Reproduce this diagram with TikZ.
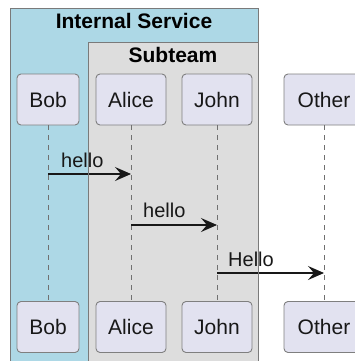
\documentclass[tikz,border=0pt]{standalone}
\usepackage{fontspec}
\setmainfont{Liberation Sans}
\usetikzlibrary{arrows.meta}
\definecolor{boxblue}{HTML}{ADD8E6}
\definecolor{boxgrey}{HTML}{DDDDDD}
\definecolor{partfill}{HTML}{E2E2F0}
\definecolor{partline}{HTML}{7F7F7F}
\definecolor{lifeline}{HTML}{707070}
\definecolor{boxline}{HTML}{7A7A7A}
\definecolor{ink}{HTML}{181818}
\tikzset{
  part/.style={draw=partline, fill=partfill, line width=0.9pt, rounded corners=4pt,
    minimum height=51pt, inner sep=0pt, font=\fontsize{21}{25}\selectfont, text=ink},
  life/.style={draw=lifeline, line width=0.7pt, dash pattern=on 5pt off 5pt},
  msg/.style={draw=ink, line width=1.1pt, -{Stealth[length=16pt,width=14pt,inset=6pt]}},
  msglabel/.style={anchor=base west, inner sep=0pt, font=\fontsize{20}{24}\selectfont, text=ink},
  grouptitle/.style={anchor=base, inner sep=0pt, font=\bfseries\fontsize{21}{25}\selectfont, text=black},
  groupline/.style={draw=boxline, line width=0.8pt}
}
\begin{document}
\begin{tikzpicture}[x=1pt,y=-1pt]
\useasboundingbox (0,0) rectangle (355,361);
\clip (0,0) rectangle (355,361);
% group fills
\fill[boxblue] (10,8) rectangle (258,372);
\fill[boxgrey] (88,42) rectangle (258,372);
% participants (top)
\node[part, minimum width=62pt] (bobT) at (48,99.5) {Bob};
\node[part, minimum width=70pt] (aliceT) at (131,99.5) {Alice};
\node[part, minimum width=70pt] (johnT) at (217,99.5) {John};
\node[part, minimum width=80pt] (otherT) at (324,99.5) {Other};
% participants (bottom)
\node[part, minimum width=62pt] (bobB) at (48,327) {Bob};
\node[part, minimum width=70pt] (aliceB) at (131,327) {Alice};
\node[part, minimum width=70pt] (johnB) at (217,327) {John};
\node[part, minimum width=80pt] (otherB) at (324,327) {Other};
% lifelines
\draw[life] (bobT.south) -- (bobB.north);
\draw[life] (aliceT.south) -- (aliceB.north);
\draw[life] (johnT.south) -- (johnB.north);
\draw[life] (otherT.south) -- (otherB.north);
% messages
\coordinate (m1s) at (bobT.south |- 0,174);
\coordinate (m1e) at (aliceT.south |- 0,174);
\coordinate (m2s) at (aliceT.south |- 0,225);
\coordinate (m2e) at (johnT.south |- 0,225);
\coordinate (m3s) at (johnT.south |- 0,273);
\coordinate (m3e) at (otherT.south |- 0,273);
\draw[msg] (m1s) -- (m1e);
\draw[msg] (m2s) -- (m2e);
\draw[msg] (m3s) -- (m3e);
\node[msglabel] (l1) at ([xshift=13pt,yshift=7pt]m1s) {hello};
\node[msglabel] (l2) at ([xshift=12pt,yshift=8pt]m2s) {hello};
\node[msglabel] (l3) at ([xshift=11pt,yshift=7pt]m3s) {Hello};
% group borders and titles
\draw[groupline] (10,372) -- (10,8) -- (258,8) -- (258,372);
\draw[groupline] (88,372) -- (88,42) -- (258,42);
\node[grouptitle] (t1) at (134,29) {Internal Service};
\node[grouptitle] (t2) at (173,63) {Subteam};
\end{tikzpicture}
\end{document}
